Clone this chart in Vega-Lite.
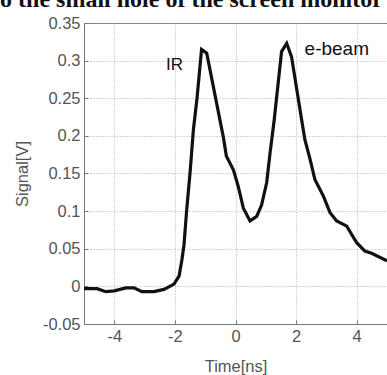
{
  "$schema": "https://vega.github.io/schema/vega-lite/v6.json",
  "width": 303,
  "height": 301,
  "autosize": {"type": "none"},
  "padding": {"left": 84, "top": 23, "right": 0, "bottom": 51},
  "background": "white",
  "config": {
    "font": "Liberation Sans",
    "view": {"stroke": "#777777", "strokeWidth": 1},
    "axis": {
      "domainColor": "#777777",
      "gridColor": "#aaaaaa",
      "gridDash": [1, 2],
      "gridOpacity": 1,
      "tickColor": "#777777",
      "tickSize": -4,
      "labelFont": "Liberation Sans",
      "labelFontSize": 16.5,
      "labelColor": "#555555",
      "labelOverlap": false,
      "titleFont": "Liberation Sans",
      "titleFontSize": 16.5,
      "titleFontWeight": "normal",
      "titleColor": "#555555"
    }
  },
  "layer": [
    {
      "data": {
        "values": [
          {"t": -5.0, "v": -0.003},
          {"t": -4.57, "v": -0.003},
          {"t": -4.28, "v": -0.007},
          {"t": -4.0, "v": -0.006},
          {"t": -3.62, "v": -0.002},
          {"t": -3.35, "v": -0.002},
          {"t": -3.09, "v": -0.007},
          {"t": -2.69, "v": -0.007},
          {"t": -2.36, "v": -0.004},
          {"t": -2.03, "v": 0.003},
          {"t": -1.86, "v": 0.014},
          {"t": -1.77, "v": 0.035},
          {"t": -1.70, "v": 0.055},
          {"t": -1.61, "v": 0.102},
          {"t": -1.50, "v": 0.151},
          {"t": -1.39, "v": 0.208},
          {"t": -1.27, "v": 0.25},
          {"t": -1.12, "v": 0.315},
          {"t": -0.95, "v": 0.31},
          {"t": -0.40, "v": 0.198},
          {"t": -0.30, "v": 0.173},
          {"t": -0.07, "v": 0.155},
          {"t": 0.09, "v": 0.133},
          {"t": 0.26, "v": 0.104},
          {"t": 0.48, "v": 0.087},
          {"t": 0.70, "v": 0.093},
          {"t": 0.86, "v": 0.108},
          {"t": 1.03, "v": 0.138},
          {"t": 1.14, "v": 0.177},
          {"t": 1.28, "v": 0.222},
          {"t": 1.52, "v": 0.312},
          {"t": 1.69, "v": 0.323},
          {"t": 1.85, "v": 0.305},
          {"t": 2.18, "v": 0.222},
          {"t": 2.29, "v": 0.195},
          {"t": 2.46, "v": 0.169},
          {"t": 2.62, "v": 0.142},
          {"t": 2.90, "v": 0.120},
          {"t": 3.12, "v": 0.098},
          {"t": 3.34, "v": 0.087},
          {"t": 3.67, "v": 0.080},
          {"t": 4.0, "v": 0.058},
          {"t": 4.27, "v": 0.047},
          {"t": 4.49, "v": 0.044},
          {"t": 5.0, "v": 0.034}
        ]
      },
      "mark": {"type": "line", "color": "#111111", "strokeWidth": 3.2, "clip": true},
      "encoding": {
        "x": {
          "field": "t",
          "type": "quantitative",
          "scale": {"domain": [-5, 5], "nice": false, "zero": false},
          "axis": {
            "values": [-4, -2, 0, 2, 4],
            "tickCount": 20,
            "labelOverlap": false,
            "labelExpr": "datum.value < 0 ? '-' + format(-datum.value, '~g') : format(datum.value, '~g')",
            "title": "Time[ns]",
            "labelPadding": 8,
            "titlePadding": 14
          }
        },
        "y": {
          "field": "v",
          "type": "quantitative",
          "scale": {"domain": [-0.05, 0.35], "nice": false, "zero": false},
          "axis": {
            "values": [-0.05, 0, 0.05, 0.1, 0.15, 0.2, 0.25, 0.3, 0.35],
            "tickCount": 20,
            "labelOverlap": false,
            "labelFlush": false,
            "labelExpr": "datum.value < 0 ? '-' + format(-datum.value, '.2~f') : format(datum.value, '.2~f')",
            "title": "Signal[V]",
            "labelPadding": 8,
            "titlePadding": 12
          }
        }
      }
    },
    {
      "data": {
        "values": [
          {"t": -2.29, "v": 0.2875, "label": "IR", "size": 17},
          {"t": 2.28, "v": 0.308, "label": "e-beam", "size": 19}
        ]
      },
      "mark": {"type": "text", "align": "left", "baseline": "alphabetic", "color": "#111111", "font": "Liberation Sans"},
      "encoding": {
        "x": {"field": "t", "type": "quantitative"},
        "y": {"field": "v", "type": "quantitative"},
        "text": {"field": "label"},
        "size": {"field": "size", "type": "quantitative", "scale": null, "legend": null}
      }
    },
    {
      "data": {
        "values": [
          {"t": -7.77, "v": 0.3706, "label": "o the small hole of the screen monitor"}
        ]
      },
      "mark": {"type": "text", "align": "left", "baseline": "alphabetic", "color": "#111111", "font": "Liberation Serif", "fontSize": 24, "fontWeight": "bold", "clip": false},
      "encoding": {
        "x": {"field": "t", "type": "quantitative"},
        "y": {"field": "v", "type": "quantitative"},
        "text": {"field": "label"}
      }
    }
  ]
}
